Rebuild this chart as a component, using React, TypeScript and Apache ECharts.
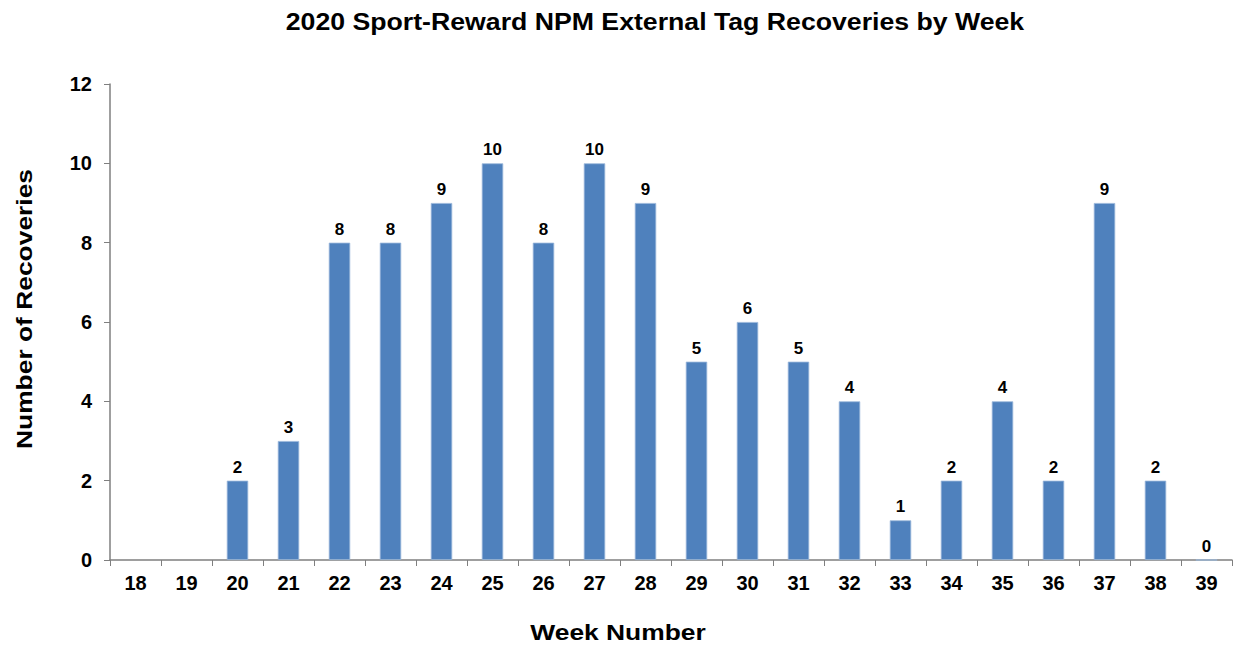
import React, { useEffect, useRef } from "react";
import * as echarts from "echarts";

const weeks = ["18","19","20","21","22","23","24","25","26","27","28","29","30","31","32","33","34","35","36","37","38","39"];
const recoveries: (number | null)[] = [null, null, 2, 3, 8, 8, 9, 10, 8, 10, 9, 5, 6, 5, 4, 1, 2, 4, 2, 9, 2, 0];
const titleText = "2020 Sport-Reward NPM External Tag Recoveries by Week";
const xName = "Week Number";
const yName = "Number of Recoveries";

export default function App() {
  const ref = useRef<HTMLDivElement>(null);
  useEffect(() => {
    const chart = echarts.init(ref.current!, null, { renderer: "svg" });
    const font = "'Liberation Sans', Arial, sans-serif";
    chart.setOption({
      animation: false,
      backgroundColor: "#ffffff",
      graphic: [
        {
          type: "text",
          x: 655,
          y: 22,
          scaleX: 1.16,
          style: {
            text: titleText,
            fontFamily: font,
            fontSize: 23,
            fontWeight: "bold",
            fill: "#000",
            textAlign: "center",
            textVerticalAlign: "middle",
          },
        },
        {
          type: "text",
          x: 618,
          y: 632,
          scaleX: 1.2,
          style: {
            text: xName,
            fontFamily: font,
            fontSize: 22,
            fontWeight: "bold",
            fill: "#000",
            textAlign: "center",
            textVerticalAlign: "middle",
          },
        },
        {
          type: "text",
          x: 24,
          y: 309,
          rotation: Math.PI / 2,
          scaleX: 1.2,
          style: {
            text: yName,
            fontFamily: font,
            fontSize: 22,
            fontWeight: "bold",
            fill: "#000",
            textAlign: "center",
            textVerticalAlign: "middle",
          },
        },
      ],
      grid: { left: 110, right: 6, top: 84, bottom: 86 },
      xAxis: {
        type: "category",
        data: weeks,
        axisLine: { lineStyle: { color: "#7f7f7f", width: 1.5 } },
        axisTick: { show: true, alignWithLabel: false, length: 6, lineStyle: { color: "#7f7f7f" } },
        axisLabel: { fontFamily: font, fontSize: 20, fontWeight: "bold", color: "#000", margin: 13 },
      },
      yAxis: {
        type: "value",
        min: 0,
        max: 12,
        interval: 2,
        axisLine: { show: true, lineStyle: { color: "#7f7f7f", width: 1.5 } },
        axisTick: { show: true, length: 6, lineStyle: { color: "#7f7f7f" } },
        splitLine: { show: false },
        axisLabel: { fontFamily: font, fontSize: 20, fontWeight: "bold", color: "#000", margin: 18 },
      },
      series: [
        {
          type: "bar",
          data: recoveries,
          barWidth: "42%",
          itemStyle: { color: "#4F81BD", borderColor: "#9BB7DA", borderWidth: 0.8 },
          label: {
            show: true,
            position: "top",
            distance: 5,
            fontFamily: font,
            fontSize: 17,
            fontWeight: "bold",
            color: "#000",
          },
        },
      ],
    });
    return () => chart.dispose();
  }, []);
  return <div ref={ref} style={{ position: "absolute", left: 0, top: 0, width: 1238, height: 646 }} />;
}
